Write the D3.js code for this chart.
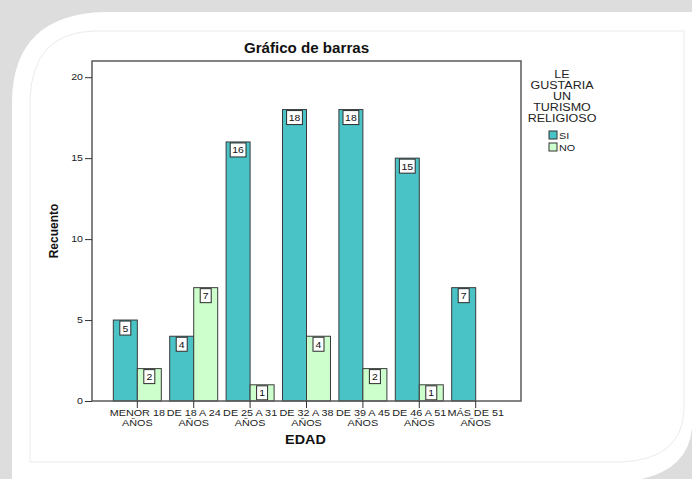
<!DOCTYPE html>
<html>
<head>
<meta charset="utf-8">
<script src="https://cdn.jsdelivr.net/npm/d3@7"></script>
<style>
  body { margin: 0; background: #dcdcdc; }
  svg { display: block; font-family: "Liberation Sans", Arial, sans-serif; }
</style>
</head>
<body>
<script>
const categories = ["MENOR 18\nAÑOS", "DE 18 A 24\nAÑOS", "DE 25 A 31\nAÑOS", "DE 32 A 38\nAÑOS",
  "DE 39 A 45\nAÑOS", "DE 46 A 51\nAÑOS", "MÁS DE 51\nAÑOS"];
const series = ["SI", "NO"];
const siValues = [5, 4, 16, 18, 18, 15, 7];
const noValues = [2, 7, 1, 4, 2, 1, 0];
const yTicks = [0, 5, 10, 15, 20];
const legendTitle = ["LE", "GUSTARIA", "UN", "TURISMO", "RELIGIOSO"];

const width = 692, height = 479;
const colors = { SI: "#4ac3c7", NO: "#ccffcc" };

// stretch text horizontally like the scaled SPSS export
const stretch = (sel, k) => sel.each(function () {
  const w = this.getComputedTextLength();
  d3.select(this).attr("textLength", w * k).attr("lengthAdjust", "spacingAndGlyphs");
});

const svg = d3.select("body").append("svg")
  .attr("width", width)
  .attr("height", height);

// page decoration
svg.append("rect").attr("width", width).attr("height", height).attr("fill", "#dddddd");
svg.append("path")
  .attr("d", "M12,100 Q14,14 105,12 L692,12 L692,428 Q688,476 622,482 L12,482 Z")
  .attr("fill", "#fff");
svg.append("path")
  .attr("d", "M30,100 Q32,32 95,31 L684,31 L684,410 Q682,460 620,462 L30,462 Z")
  .attr("fill", "none")
  .attr("stroke", "#ebebeb");

const plot = { left: 92, right: 521, top: 61, bottom: 401 };

const data = categories.map((c, i) => ({ cat: c, SI: siValues[i], NO: noValues[i] }));

const x0 = d3.scaleBand()
  .domain(categories)
  .range([plot.left, plot.right])
  .paddingInner(0.149)
  .paddingOuter(0.378);

const x1 = d3.scaleBand()
  .domain(series)
  .range([0, x0.bandwidth()]);

const y = d3.scaleLinear()
  .domain([0, 21])
  .range([plot.bottom, plot.top]);

// title
svg.append("text")
  .attr("x", (plot.left + plot.right) / 2 + 0)
  .attr("y", 53)
  .attr("text-anchor", "middle")
  .style("font-size", "14px")
  .style("font-weight", "bold")
  .attr("fill", "#111")
  .text("Gráfico de barras")
  .call(stretch, 1.08);

// bars
const groups = svg.append("g").selectAll("g")
  .data(data)
  .enter().append("g")
  .attr("transform", d => `translate(${x0(d.cat)},0)`);

const cells = groups.selectAll("g")
  .data(d => series.map(s => ({ key: s, value: d[s] })).filter(e => e.value > 0))
  .enter().append("g");

cells.append("rect")
  .attr("x", d => x1(d.key))
  .attr("y", d => y(d.value))
  .attr("width", x1.bandwidth())
  .attr("height", d => y(0) - y(d.value))
  .attr("fill", d => colors[d.key])
  .attr("stroke", "#3a3a3a")
  .attr("stroke-width", 1);

// value labels
cells.each(function (d) {
  const g = d3.select(this);
  const cx = x1(d.key) + x1.bandwidth() / 2;
  const top = y(d.value) + 1;
  const t = g.append("text")
    .attr("x", cx)
    .attr("y", top + 10.5)
    .attr("text-anchor", "middle")
    .style("font-size", "9.5px")
    .attr("fill", "#111")
    .text(d.value)
    .call(stretch, 1.1);
  const tw = t.node().getComputedTextLength() * 1.1;
  const bw = Math.max(11, tw + 3);
  g.insert("rect", "text")
    .attr("x", cx - bw / 2)
    .attr("y", top)
    .attr("width", bw)
    .attr("height", 14)
    .attr("fill", "#fff")
    .attr("stroke", "#2a2a2a");
});

// frame
svg.append("rect")
  .attr("x", plot.left)
  .attr("y", plot.top)
  .attr("width", plot.right - plot.left)
  .attr("height", plot.bottom - plot.top)
  .attr("fill", "none")
  .attr("stroke", "#5a5a5a")
  .attr("stroke-width", 1.5);

// y axis
const yAxis = svg.append("g")
  .attr("transform", `translate(${plot.left},0)`)
  .call(d3.axisLeft(y).tickValues(yTicks).tickSize(7).tickPadding(2));
yAxis.select(".domain").remove();
yAxis.selectAll("line").attr("stroke", "#333");
yAxis.selectAll("text")
  .attr("fill", "#222")
  .style("font-size", "8.5px")
  .style("font-family", "Liberation Sans, Arial, sans-serif")
  .call(stretch, 1.25);

// x axis
const xAxis = svg.append("g")
  .attr("transform", `translate(0,${plot.bottom})`)
  .call(d3.axisBottom(x0).tickSize(7).tickFormat(""));
xAxis.select(".domain").remove();
xAxis.selectAll("line").attr("stroke", "#333");
xAxis.selectAll(".tick").each(function (d) {
  const lines = d.split("\n");
  const g = d3.select(this);
  lines.forEach((ln, i) => {
    g.append("text")
      .attr("y", 15 + i * 10)
      .attr("text-anchor", "middle")
      .attr("fill", "#222")
      .style("font-size", "9px")
      .style("font-family", "Liberation Sans, Arial, sans-serif")
      .text(ln)
      .call(stretch, 1.2);
  });
});

// axis titles
svg.append("text")
  .attr("x", (plot.left + plot.right) / 2 - 1)
  .attr("y", 444)
  .attr("text-anchor", "middle")
  .style("font-size", "12.5px")
  .style("font-weight", "bold")
  .attr("fill", "#111")
  .text("EDAD")
  .call(stretch, 1.15);

svg.append("text")
  .attr("transform", `translate(58,${(plot.top + plot.bottom) / 2}) rotate(-90)`)
  .attr("text-anchor", "middle")
  .style("font-size", "12px")
  .style("font-weight", "bold")
  .attr("fill", "#111")
  .text("Recuento");

// legend
const legend = svg.append("g").attr("transform", "translate(562,0)");
legend.selectAll(".lt")
  .data(legendTitle)
  .enter().append("text")
  .attr("class", "lt")
  .attr("x", 0)
  .attr("y", (d, i) => 78 + i * 11)
  .attr("text-anchor", "middle")
  .style("font-size", "10px")
  .attr("fill", "#222")
  .text(d => d)
  .call(stretch, 1.25);

const items = legend.selectAll(".li")
  .data(series)
  .enter().append("g")
  .attr("class", "li")
  .attr("transform", (d, i) => `translate(-13,${131 + i * 12})`);
items.append("rect")
  .attr("width", 8)
  .attr("height", 8)
  .attr("fill", d => colors[d])
  .attr("stroke", "#333");
items.append("text")
  .attr("x", 10)
  .attr("y", 8)
  .style("font-size", "9px")
  .attr("fill", "#222")
  .text(d => d)
  .call(stretch, 1.2);
</script>
</body>
</html>
